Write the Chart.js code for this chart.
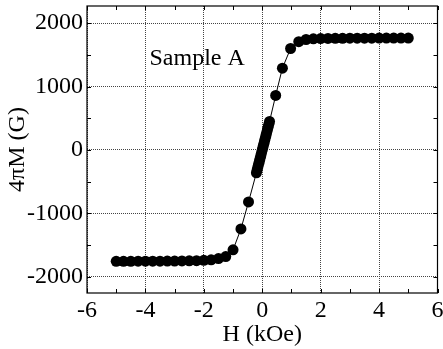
<!DOCTYPE html>
<html lang="en">
<head>
    <meta charset="UTF-8">
    <script src="https://cdn.jsdelivr.net/npm/chart.js@4.4.1/dist/chart.umd.min.js"></script>
    <title>Sample A</title>
    <style>
        body { margin: 0; background: #fff; }
    </style>
</head>
<body>
    <canvas id="myChart" width="443" height="349"></canvas>
    <script>
        // field H (kOe) and magnetization 4piM (G)
        var campoH = [-5, -4.75, -4.5, -4.25, -4, -3.75, -3.5, -3.25, -3, -2.75, -2.5, -2.25, -2, -1.75, -1.5, -1.25,
            -1, -0.73, -0.47,
            -0.2, -0.175, -0.15, -0.125, -0.1, -0.075, -0.05, -0.025, 0, 0.025, 0.05, 0.075, 0.1, 0.125, 0.15, 0.175, 0.2, 0.225, 0.25,
            0.46, 0.69, 0.97,
            1.25, 1.5, 1.75, 2, 2.25, 2.5, 2.75, 3, 3.25, 3.5, 3.75, 4, 4.25, 4.5, 4.75, 5];
        var magnetM = [-1755, -1755, -1755, -1754, -1754, -1754, -1753, -1752, -1752, -1750, -1748, -1745, -1740, -1732, -1712, -1680,
            -1575, -1245, -820,
            -360, -315, -270, -225, -180, -135, -90, -45, 0, 45, 90, 135, 180, 225, 270, 315, 360, 405, 450,
            860, 1290, 1600,
            1708, 1742, 1752, 1757, 1759, 1760, 1761, 1762, 1762, 1763, 1763, 1764, 1764, 1765, 1765, 1765];

        var xTicks = [-6, -4, -2, 0, 2, 4, 6];
        var xMinor = [-5, -3, -1, 1, 3, 5];
        var yTicks = [-2000, -1000, 0, 1000, 2000];
        var yMinor = [-1500, -500, 500, 1500];
        var etichetta = 'Sample A';
        var etichettaPos = [-3.86, 1440]; // H, M

        var punti = [];
        for (let i = 0; i < campoH.length; i++) {
            punti.push({ x: campoH[i], y: magnetM[i] });
        }

        var font = "'Liberation Serif', 'Times New Roman', serif";

        // frame, inward ticks and the text label
        var cornice = {
            id: 'cornice',
            afterDatasetsDraw: function (chart) {
                var ctx = chart.ctx;
                var a = chart.chartArea;
                var sx = chart.scales.x, sy = chart.scales.y;
                ctx.save();
                ctx.strokeStyle = '#000';
                ctx.lineWidth = 1.2;
                ctx.strokeRect(a.left, a.top, a.right - a.left, a.bottom - a.top);
                ctx.lineWidth = 1;
                ctx.beginPath();
                xTicks.concat(xMinor).forEach(function (v) {
                    var p = Math.round(sx.getPixelForValue(v)) + 0.5;
                    ctx.moveTo(p, a.bottom); ctx.lineTo(p, a.bottom - 4);
                    ctx.moveTo(p, a.top); ctx.lineTo(p, a.top + 4);
                });
                yTicks.concat(yMinor).forEach(function (v) {
                    var p = Math.round(sy.getPixelForValue(v)) + 0.5;
                    ctx.moveTo(a.left, p); ctx.lineTo(a.left + 4, p);
                    ctx.moveTo(a.right, p); ctx.lineTo(a.right - 4, p);
                });
                ctx.stroke();
                ctx.fillStyle = '#000';
                ctx.font = '24px ' + font;
                ctx.textBaseline = 'middle';
                ctx.textAlign = 'left';
                ctx.fillText(etichetta, sx.getPixelForValue(etichettaPos[0]), sy.getPixelForValue(etichettaPos[1]));
                ctx.restore();
            }
        };

        var ctx = document.getElementById('myChart').getContext('2d');
        var chart = new Chart(ctx, {
            type: 'scatter',
            data: {
                datasets: [{
                    data: punti,
                    showLine: true,
                    borderColor: '#000',
                    borderWidth: 1,
                    backgroundColor: '#000',
                    pointRadius: 5.5,
                    pointBorderWidth: 0,
                    pointBackgroundColor: '#000'
                }]
            },
            options: {
                responsive: false,
                animation: false,
                layout: { padding: { top: 6, right: 4, left: 0, bottom: 0 } },
                plugins: { legend: { display: false }, tooltip: { enabled: false } },
                scales: {
                    x: {
                        type: 'linear',
                        min: -6,
                        max: 6,
                        afterBuildTicks: function (s) { s.ticks = xTicks.map(function (v) { return { value: v }; }); },
                        afterFit: function (s) { s.height = 56; s.paddingLeft = 0; s.paddingRight = 0; },
                        grid: { color: '#444', lineWidth: 1, drawTicks: false },
                        border: { display: false, dash: [1, 1] },
                        ticks: { color: '#000', font: { family: font, size: 24 }, padding: 3, maxRotation: 0,
                            callback: function (v) { return String(v); } },
                        title: { display: true, text: 'H (kOe)', color: '#000', font: { family: font, size: 24 }, padding: { top: 0, bottom: 0 } }
                    },
                    y: {
                        type: 'linear',
                        min: -2255,
                        max: 2270,
                        afterBuildTicks: function (s) { s.ticks = yTicks.map(function (v) { return { value: v }; }); },
                        afterFit: function (s) { s.width = 87; s.paddingTop = 0; s.paddingBottom = 0; },
                        grid: { color: '#444', lineWidth: 1, drawTicks: false },
                        border: { display: false, dash: [1, 1] },
                        ticks: { color: '#000', font: { family: font, size: 24 }, padding: 4,
                            callback: function (v) { return String(v); } },
                        title: { display: true, text: '4πM (G)', color: '#000', font: { family: font, size: 24 }, padding: { top: 3, bottom: 0 } }
                    }
                }
            },
            plugins: [cornice]
        });
    </script>
</body>
</html>
